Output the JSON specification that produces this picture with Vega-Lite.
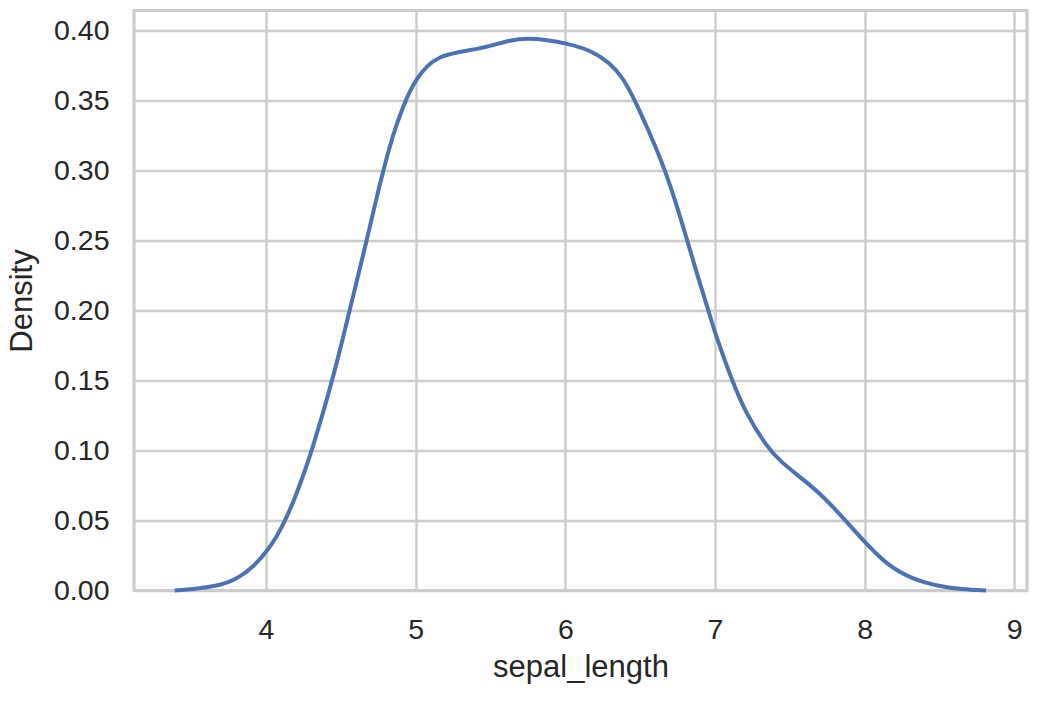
{
  "$schema": "https://vega.github.io/schema/vega-lite/v6.json",
  "autosize": {"type": "none"},
  "padding": {"left": 134, "top": 10.5, "right": 23, "bottom": 111.5},
  "width": 893,
  "height": 580,
  "background": "white",
  "config": {
    "font": "Liberation Sans",
    "view": {"stroke": "#cccccc", "strokeWidth": 3.2},
    "axis": {
      "domain": false,
      "ticks": false,
      "grid": true,
      "gridColor": "#cccccc",
      "gridWidth": 2.4,
      "labelFont": "Liberation Sans",
      "labelFontSize": 28.5,
      "labelColor": "#262626",
      "labelPadding": 25,
      "titleFont": "Liberation Sans",
      "titleFontSize": 31,
      "titleFontWeight": "normal",
      "titleColor": "#262626"
    }
  },
  "data": {
    "values": [
      {"sepal_length": 3.39, "density": 0.0},
      {"sepal_length": 3.5, "density": 0.0008},
      {"sepal_length": 3.556, "density": 0.0017},
      {"sepal_length": 3.62, "density": 0.0026},
      {"sepal_length": 3.693, "density": 0.004},
      {"sepal_length": 3.76, "density": 0.0063},
      {"sepal_length": 3.826, "density": 0.0098},
      {"sepal_length": 3.915, "density": 0.0169},
      {"sepal_length": 4.004, "density": 0.0276},
      {"sepal_length": 4.071, "density": 0.0383},
      {"sepal_length": 4.138, "density": 0.052},
      {"sepal_length": 4.205, "density": 0.0691},
      {"sepal_length": 4.272, "density": 0.0892},
      {"sepal_length": 4.305, "density": 0.0999},
      {"sepal_length": 4.372, "density": 0.1234},
      {"sepal_length": 4.445, "density": 0.1511},
      {"sepal_length": 4.511, "density": 0.1788},
      {"sepal_length": 4.575, "density": 0.207},
      {"sepal_length": 4.678, "density": 0.2523},
      {"sepal_length": 4.717, "density": 0.2703},
      {"sepal_length": 4.75, "density": 0.2853},
      {"sepal_length": 4.784, "density": 0.2999},
      {"sepal_length": 4.829, "density": 0.3179},
      {"sepal_length": 4.873, "density": 0.3329},
      {"sepal_length": 4.918, "density": 0.3459},
      {"sepal_length": 4.962, "density": 0.3567},
      {"sepal_length": 5.007, "density": 0.3653},
      {"sepal_length": 5.074, "density": 0.3747},
      {"sepal_length": 5.163, "density": 0.3814},
      {"sepal_length": 5.274, "density": 0.3842},
      {"sepal_length": 5.419, "density": 0.3868},
      {"sepal_length": 5.5, "density": 0.3888},
      {"sepal_length": 5.633, "density": 0.393},
      {"sepal_length": 5.744, "density": 0.3943},
      {"sepal_length": 5.878, "density": 0.393},
      {"sepal_length": 6.005, "density": 0.3907},
      {"sepal_length": 6.167, "density": 0.386},
      {"sepal_length": 6.299, "density": 0.3766},
      {"sepal_length": 6.387, "density": 0.3659},
      {"sepal_length": 6.465, "density": 0.3499},
      {"sepal_length": 6.544, "density": 0.3313},
      {"sepal_length": 6.611, "density": 0.3147},
      {"sepal_length": 6.666, "density": 0.2999},
      {"sepal_length": 6.733, "density": 0.279},
      {"sepal_length": 6.793, "density": 0.2575},
      {"sepal_length": 6.815, "density": 0.2499},
      {"sepal_length": 6.878, "density": 0.2266},
      {"sepal_length": 6.956, "density": 0.2},
      {"sepal_length": 7.0, "density": 0.1838},
      {"sepal_length": 7.112, "density": 0.1503},
      {"sepal_length": 7.211, "density": 0.1255},
      {"sepal_length": 7.344, "density": 0.1031},
      {"sepal_length": 7.433, "density": 0.0924},
      {"sepal_length": 7.589, "density": 0.0793},
      {"sepal_length": 7.722, "density": 0.0674},
      {"sepal_length": 7.856, "density": 0.0519},
      {"sepal_length": 7.995, "density": 0.0352},
      {"sepal_length": 8.144, "density": 0.0186},
      {"sepal_length": 8.322, "density": 0.0079},
      {"sepal_length": 8.5, "density": 0.003},
      {"sepal_length": 8.65, "density": 0.0008},
      {"sepal_length": 8.811, "density": 0.0}
    ]
  },
  "mark": {"type": "line", "color": "#4c72b0", "strokeWidth": 4, "interpolate": "basis"},
  "encoding": {
    "x": {
      "field": "sepal_length",
      "type": "quantitative",
      "title": "sepal_length",
      "scale": {"domain": [3.118, 9.085], "nice": false, "zero": false},
      "axis": {"values": [4, 5, 6, 7, 8, 9], "format": "d", "titlePadding": 8}
    },
    "y": {
      "field": "density",
      "type": "quantitative",
      "title": "Density",
      "scale": {"domain": [0, 0.4141], "nice": false},
      "axis": {"values": [0, 0.05, 0.1, 0.15, 0.2, 0.25, 0.3, 0.35, 0.4], "format": ".2f", "titlePadding": 15}
    }
  }
}
